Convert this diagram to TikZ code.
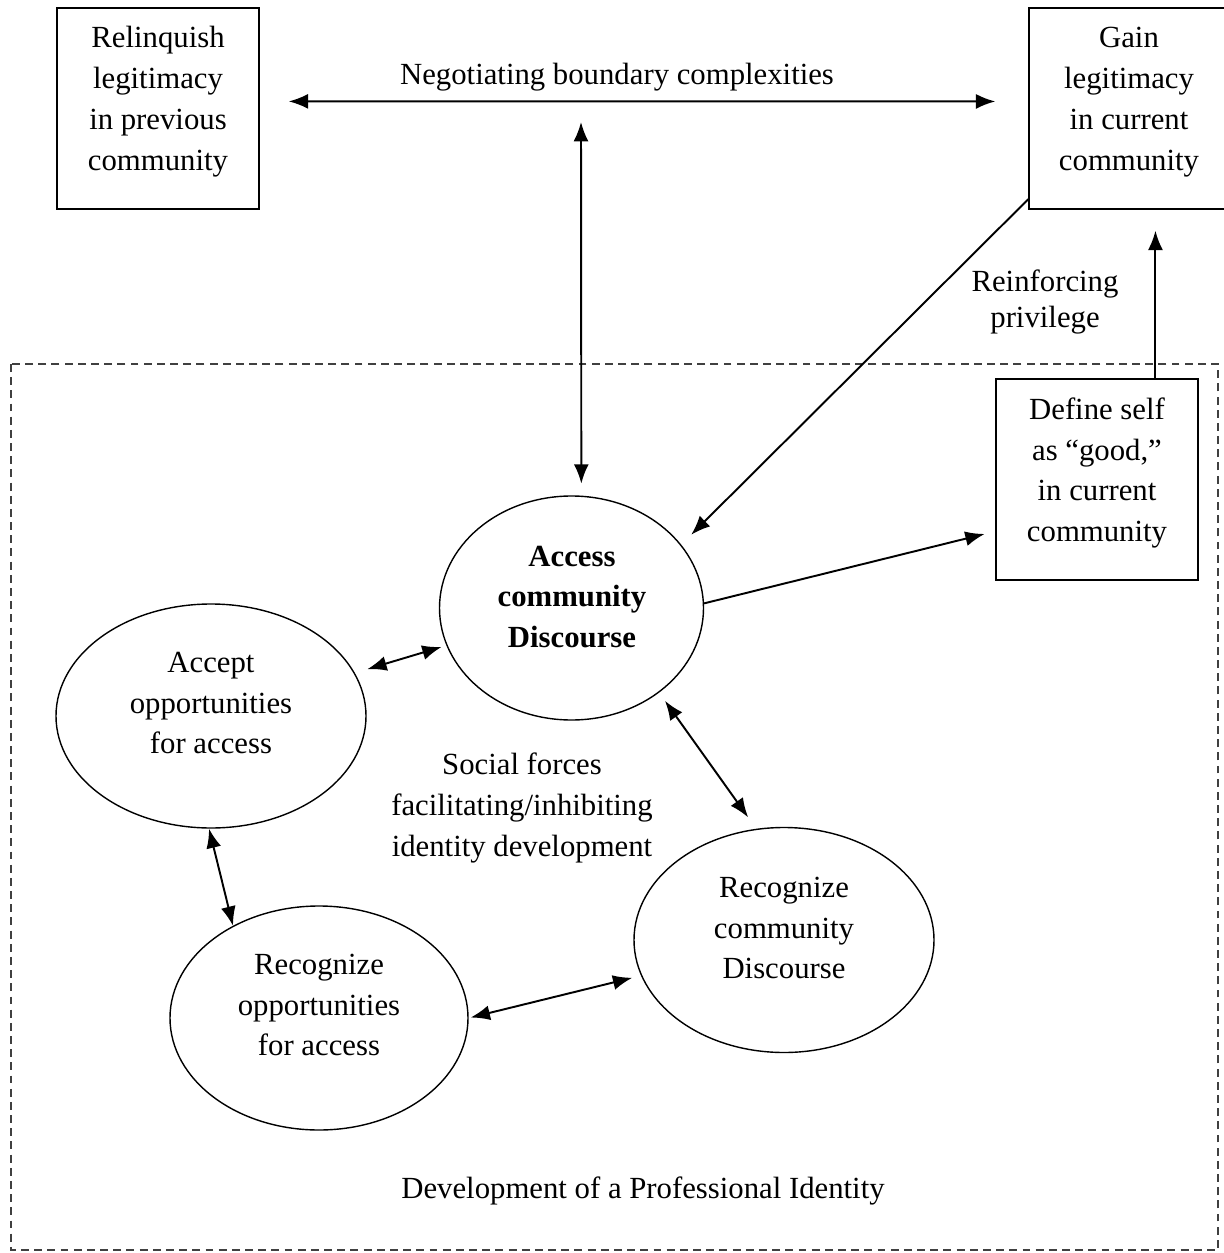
\documentclass[tikz,border=0pt]{standalone}
\usepackage{fontspec}
\setmainfont{Liberation Serif}
\usetikzlibrary{shapes.geometric}
\usetikzlibrary{arrows.meta}
\newdimen\pxu \pxu=0.02cm
\tikzset{box/.style = {draw, line width=0.8pt, minimum width=202\pxu,
                       minimum height=201\pxu, inner sep=0}}
\tikzset{oval/.style = {draw, ellipse, line width=0.8pt, inner sep=0}}
\tikzset{txt/.style = {align=center, inner sep=0,
                       font=\fontsize{17.5}{23.3}\selectfont}}
\tikzset{link/.style = {line width=1.1pt}}

\begin{document}
\begin{tikzpicture}[x=0.02cm, y=-0.02cm, >={Latex[length=11pt,width=8.5pt]}]
      \useasboundingbox (0,0) rectangle (1223,1253);
      \draw[dash pattern=on 4.5pt off 3pt, line width=0.8pt, black!75] (11,364) rectangle (1218,1250);

      \node[box] (rel) at (158,108.5) {};
      \node[box, minimum width=200\pxu] (gain) at (1129,108.5) {};
      \node[box] (def) at (1097,479.5) {};
      \node[oval, minimum width=264\pxu, minimum height=224\pxu] (acc) at (571.5,608) {};
      \node[oval, minimum width=310\pxu, minimum height=224\pxu] (acp) at (211,716) {};
      \node[oval, minimum width=298\pxu, minimum height=224\pxu] (rop) at (319,1018) {};
      \node[oval, minimum width=300\pxu, minimum height=225\pxu] (rcd) at (784,940) {};

      \node[txt] (relT) at (158,102) {Relinquish\\legitimacy\\in previous\\community};
      \node[txt] (gainT) at (1129,102) {Gain\\legitimacy\\in current\\community};
      \node[txt] (defT) at (1097,473) {Define self\\as “good,”\\in current\\community};
      \node[txt, font=\fontsize{17.5}{23.3}\selectfont\bfseries] (accT) at (572,597) {Access\\community\\Discourse};
      \node[txt] (acpT) at (211,703) {Accept\\opportunities\\for access};
      \node[txt] (ropT) at (319,1005) {Recognize\\opportunities\\for access};
      \node[txt] (rcdT) at (784,928) {Recognize\\community\\Discourse};

      \node[txt] (negT) at (617,77) {Negotiating boundary complexities};
      \node[txt, font=\fontsize{17.5}{21}\selectfont] (reinT) at (1045,302) {Reinforcing\\privilege};
      \node[txt] (socT) at (522,808) {Social forces\\facilitating/inhibiting\\identity development};
      \node[txt] (devT) at (643,1191) {Development of a Professional Identity};
      \coordinate (negB) at (581,122);

      \draw[link, <->, shorten <=29\pxu, shorten >=33\pxu] (rel.4) -- (gain.176);
      \draw[link, <->, shorten >=12\pxu] (negB) -- (acc.85.4);
      \draw[link, ->, shorten >=14\pxu] (gain.222) -- (acc.30.3);
      \draw[link, ->, shorten >=21\pxu] (def.60.3) -- (def.60.3 |- gain.south);
      \draw[link, ->, shorten >=11\pxu] (acc.2) -- (def.207);
      \draw[link, <->, shorten <=13\pxu, shorten >=5\pxu] (acp) -- (acc);
      \draw[link, <->] (acp.269) -- (rop.133.4);
      \draw[link, <->, shorten <=2\pxu, shorten >=9\pxu] (rop.east) -- (rcd.194);
      \draw[link, <->, shorten <=10\pxu, shorten >=14\pxu] (acc.316.5) -- (rcd.104);
    \end{tikzpicture}
\end{document}
